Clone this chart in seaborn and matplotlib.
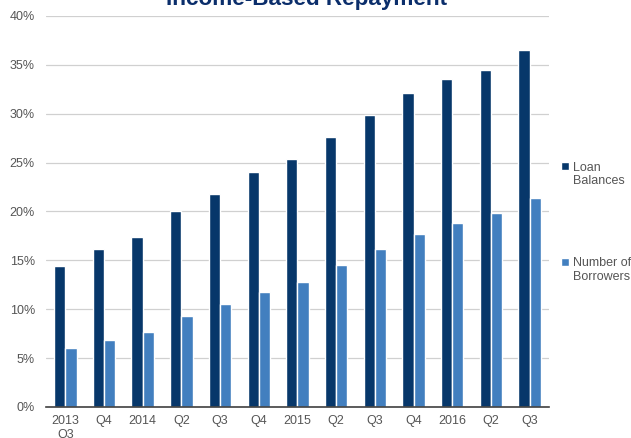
import pandas as pd
import matplotlib
matplotlib.use("Agg")
import matplotlib.pyplot as plt
import seaborn as sns
from matplotlib.ticker import PercentFormatter
from matplotlib.patches import Rectangle
from matplotlib.legend_handler import HandlerPatch

quarters = ["2013\nQ3", "Q4", "2014", "Q2", "Q3", "Q4", "2015",
            "Q2", "Q3", "Q4", "2016", "Q2", "Q3"]
loan_balances = [14.4, 16.2, 17.4, 20.1, 21.8, 24.0, 25.4, 27.6, 29.9, 32.1, 33.6, 34.5, 36.5]
num_borrowers = [6.0, 6.9, 7.7, 9.3, 10.5, 11.8, 12.8, 14.5, 16.2, 17.7, 18.8, 19.8, 21.4]
series_names = ["Loan\nBalances", "Number of\nBorrowers"]
colors = ["#07376a", "#427fbf"]

# long format for seaborn
pos = list(range(len(quarters)))
df = pd.DataFrame({
    "pos": pos * 2,
    "value": loan_balances + num_borrowers,
    "series": [series_names[0]] * len(pos) + [series_names[1]] * len(pos),
})


def top_square(legend, orig_handle, xdescent, ydescent, width, height, fontsize):
    # small square sitting next to the first line of the label
    s = 0.62 * fontsize
    return Rectangle((-xdescent, -ydescent + height - s + 0.2 * fontsize), s, s)


sns.set_theme(style="white")
plt.rcParams["font.family"] = ["Liberation Sans", "DejaVu Sans"]

fig = plt.figure(figsize=(6.31, 4.38), dpi=100)
ax = fig.add_axes([0.0729, 0.0708, 0.797, 0.8927])

sns.barplot(data=df, x="pos", y="value", hue="series", palette=colors,
            width=0.58, gap=0, saturation=1, ax=ax, legend=True)

ax.set_ylim(0, 40)
ax.set_yticks(range(0, 41, 5))
ax.yaxis.set_major_formatter(PercentFormatter(decimals=0))
ax.set_xticks(pos)
ax.set_xticklabels(quarters)
ax.set_xlabel("")
ax.set_ylabel("")
ax.grid(axis="y", color="#d0d0d0", linewidth=0.9)
ax.set_axisbelow(True)
for s in ["top", "right", "left"]:
    ax.spines[s].set_visible(False)
ax.spines["bottom"].set_color("#404040")
ax.spines["bottom"].set_linewidth(1.2)
ax.tick_params(axis="both", length=0, labelsize=9, colors="#555555", pad=6)
ax.tick_params(axis="y", pad=8)
ax.set_xlim(-0.5, len(quarters) - 0.5)

handles, labels = ax.get_legend_handles_labels()
ax.legend(handles, labels, loc="upper left", bbox_to_anchor=(0.889, 0.631),
          bbox_transform=fig.transFigure, frameon=False, fontsize=9,
          handlelength=0.7, handleheight=2.2, handletextpad=0.25,
          labelspacing=5.6, labelcolor="#555555", borderpad=0, borderaxespad=0,
          handler_map={Rectangle: HandlerPatch(patch_func=top_square)})

fig.text(0.4865, 0.988, "Income-Based Repayment", ha="center", va="baseline",
         fontsize=16.2, fontweight="bold", color="#0b2e6b")

fig.savefig("out.png", dpi=100)
